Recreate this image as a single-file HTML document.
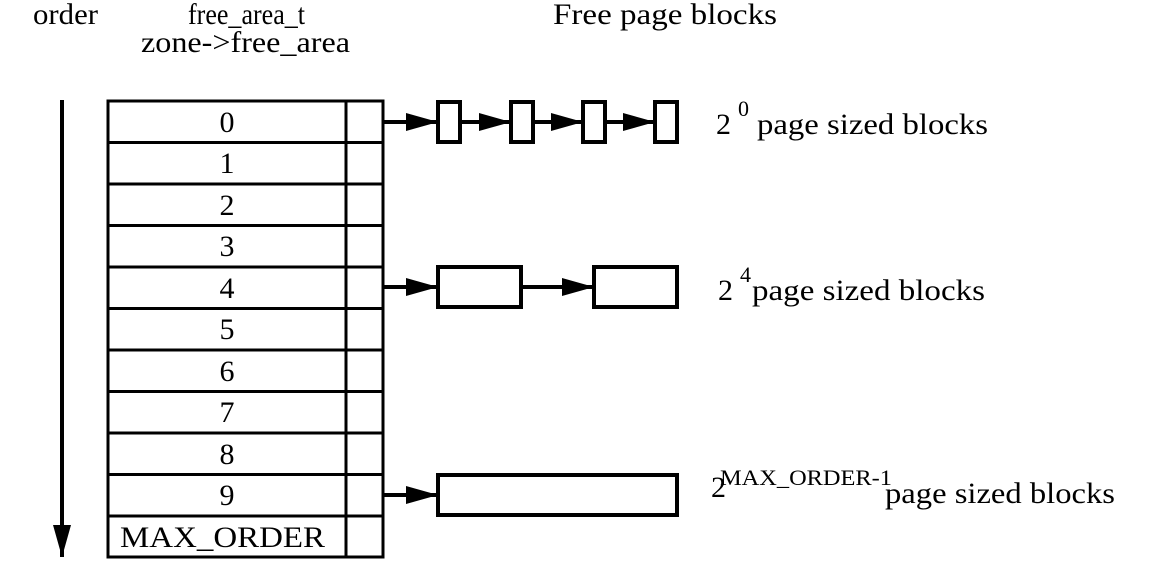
<!DOCTYPE html>
<html><head><meta charset="utf-8"><style>body{margin:0;background:#fff}svg{display:block}</style></head>
<body>
<svg width="1149" height="587" xmlns="http://www.w3.org/2000/svg" font-family="Liberation Serif, serif" font-size="30">
<defs><marker id="a" markerWidth="32" markerHeight="18" refX="32" refY="9" orient="auto" markerUnits="userSpaceOnUse"><path d="M0,0 L32,9 L0,18 Z" fill="#000"/></marker></defs>
<g fill="#000">
<text x="33" y="24" textLength="65" lengthAdjust="spacingAndGlyphs">order</text>
<text x="188" y="24" textLength="117" lengthAdjust="spacingAndGlyphs">free_area_t</text>
<text x="141" y="52" textLength="209" lengthAdjust="spacingAndGlyphs">zone-&gt;free_area</text>
<text x="553" y="24" textLength="224" lengthAdjust="spacingAndGlyphs">Free page blocks</text>
</g>
<line x1="62" y1="100" x2="62" y2="557" stroke="#000" stroke-width="4" marker-end="url(#a)"/>
<g stroke="#000" stroke-width="3" fill="none">
<rect x="108" y="101" width="275" height="456"/>
<line x1="346" y1="101" x2="346" y2="557"/>
<line x1="108" y1="142.5" x2="383" y2="142.5"/><line x1="108" y1="184" x2="383" y2="184"/>
<line x1="108" y1="225.5" x2="383" y2="225.5"/><line x1="108" y1="267" x2="383" y2="267"/>
<line x1="108" y1="308.5" x2="383" y2="308.5"/><line x1="108" y1="350" x2="383" y2="350"/>
<line x1="108" y1="391.5" x2="383" y2="391.5"/><line x1="108" y1="433" x2="383" y2="433"/>
<line x1="108" y1="474.5" x2="383" y2="474.5"/><line x1="108" y1="516" x2="383" y2="516"/>
</g>
<g text-anchor="middle" fill="#000">
<text x="227" y="132">0</text><text x="227" y="173">1</text><text x="227" y="215">2</text>
<text x="227" y="256">3</text><text x="227" y="298">4</text><text x="227" y="339">5</text>
<text x="227" y="381">6</text><text x="227" y="422">7</text><text x="227" y="464">8</text>
<text x="227" y="505">9</text>
</g>
<text x="120" y="547" textLength="205" lengthAdjust="spacingAndGlyphs">MAX_ORDER</text>
<g stroke="#000" stroke-width="4" fill="#fff">
<line x1="383" y1="122" x2="438" y2="122" marker-end="url(#a)"/>
<line x1="460" y1="122" x2="511" y2="122" marker-end="url(#a)"/>
<line x1="533" y1="122" x2="583" y2="122" marker-end="url(#a)"/>
<line x1="605" y1="122" x2="655" y2="122" marker-end="url(#a)"/>
<rect x="438" y="102" width="22" height="40"/><rect x="511" y="102" width="22" height="40"/>
<rect x="583" y="102" width="22" height="40"/><rect x="655" y="102" width="22" height="40"/>
<line x1="383" y1="287" x2="438" y2="287" marker-end="url(#a)"/>
<line x1="521" y1="287" x2="594" y2="287" marker-end="url(#a)"/>
<rect x="438" y="267" width="83" height="40"/><rect x="594" y="267" width="83" height="40"/>
<line x1="383" y1="495" x2="438" y2="495" marker-end="url(#a)"/>
<rect x="438" y="475" width="239" height="40"/>
</g>
<g fill="#000">
<text x="716" y="134">2</text><text x="738" y="116" font-size="22">0</text>
<text x="757" y="134" textLength="231" lengthAdjust="spacingAndGlyphs">page sized blocks</text>
<text x="718" y="300">2</text><text x="740" y="282" font-size="22">4</text>
<text x="752" y="300" textLength="233" lengthAdjust="spacingAndGlyphs">page sized blocks</text>
<text x="711" y="497">2</text><text x="720" y="485" font-size="22" textLength="172" lengthAdjust="spacingAndGlyphs">MAX_ORDER-1</text>
<text x="885" y="503" textLength="230" lengthAdjust="spacingAndGlyphs">page sized blocks</text>
</g>
</svg>
</body></html>
